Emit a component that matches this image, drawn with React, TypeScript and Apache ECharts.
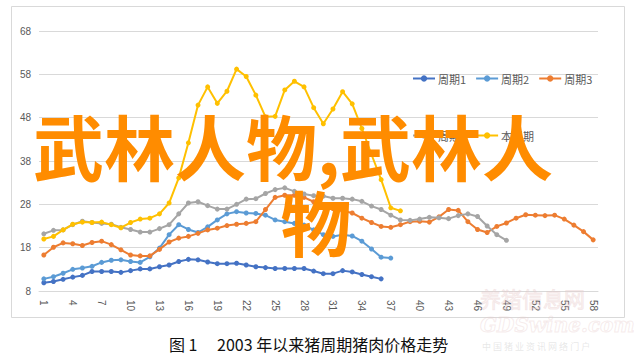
import React, { useEffect, useRef } from "react";
import * as echarts from "echarts";

const categories = [
  "1","2","3","4","5","6","7","8","9","10","11","12","13","14","15","16","17","18","19","20",
  "21","22","23","24","25","26","27","28","29","30","31","32","33","34","35","36","37","38","39","40",
  "41","42","43","44","45","46","47","48","49","50","51","52","53","54","55","56","57","58",
];

const seriesNames = ["周期1", "周期2", "周期3", "周期4", "本周期"];

const cycle1 = [
  9.9, 10.2, 10.7, 11.2, 11.6, 12.5, 12.5, 12.5, 12.3, 12.7, 13.1, 13.1, 13.6, 14.0, 14.8, 15.3, 15.2, 14.7, 14.3, 14.3,
  14.4, 14.0, 13.6, 13.4, 13.2, 13.2, 13.2, 13.2, 12.6, 12.0, 12.0, 12.7, 12.4, 11.8, 11.3, 10.8,
];

const cycle2 = [
  10.8, 11.3, 12.1, 13.0, 13.3, 13.7, 14.6, 15.1, 15.2, 14.8, 14.6, 15.9, 17.9, 21.0, 23.3, 22.2, 21.5, 22.8, 24.4, 25.8,
  26.3, 26.0, 25.9, 25.5, 24.4, 24.0, 23.6, 23.2, 22.1, 21.0, 20.6, 21.0, 20.7, 19.5, 17.7, 15.8, 15.6,
];

const cycle3 = [
  16.3, 18.1, 19.1, 18.9, 18.5, 19.2, 19.5, 18.7, 17.5, 16.3, 16.1, 16.1, 17.6, 19.3, 20.2, 20.6, 21.3, 22.1, 22.5, 23.1,
  23.4, 23.6, 24.0, 26.8, 29.6, 30.1, 30.1, 29.6, 28.6, 27.6, 27.0, 26.5, 26.0, 24.8, 23.8, 22.9, 22.7, 23.3, 24.0, 24.1,
  23.9, 25.1, 26.8, 26.6, 24.0, 22.2, 21.5, 22.9, 23.7, 24.8, 25.6, 25.5, 25.4, 25.5, 24.6, 23.2, 21.7, 19.8,
];

const cycle4 = [
  21.2, 22.0, 22.1, 23.3, 24.1, 23.8, 23.6, 23.4, 22.7, 22.2, 21.6, 21.6, 22.4, 23.3, 25.8, 28.3, 28.6, 27.7, 26.9, 26.9,
  28.0, 29.2, 29.3, 30.5, 31.4, 31.8, 31.0, 30.4, 30.0, 29.9, 29.4, 29.4, 29.2, 28.7, 27.6, 26.8, 25.5, 24.4, 24.3, 24.6,
  25.0, 24.9, 24.7, 25.4, 25.8, 25.2, 23.0, 21.0, 19.7,
];

const currentCycle = [
  20.0, 20.6, 22.1, 23.4, 23.9, 23.8, 23.9, 23.3, 22.6, 23.8, 24.6, 24.8, 25.8, 28.3, 34.1, 42.2, 50.9, 55.1, 51.3, 54.1,
  59.2, 57.5, 53.2, 48.2, 48.3, 54.4, 56.4, 55.1, 50.3, 46.6, 50.0, 54.0, 51.2, 45.5, 39.5, 33.7, 27.2, 26.5,
];

const colors = ["#4472C4", "#5B9BD5", "#ED7D31", "#A5A5A5", "#FFC000"];

const yMin = 8;
const yMax = 68;
const yInterval = 10;

const overlayLine1 = "武林人物,武林人";
const overlayLine2 = "物";
const caption = "图 1　 2003 年以来猪周期猪肉价格走势";
const watermark1 = "养猪信息网";
const watermark2 = "GDSwine.com";
const watermark3 = "中 国 猪 业 资 讯 网 络 门 户";

export default function App() {
  const ref = useRef<HTMLDivElement>(null);

  useEffect(() => {
    if (!ref.current) return;
    const chart = echarts.init(ref.current, null, { renderer: "svg" });
    const allData = [cycle1, cycle2, cycle3, cycle4, currentCycle];
    const font = '"Noto Sans CJK SC", "Liberation Sans", sans-serif';
    chart.setOption({
      animation: false,
      backgroundColor: "#ffffff",
      color: colors,
      textStyle: { fontFamily: font },
      grid: { left: 39, right: 36, top: 31, bottom: 67, containLabel: false },
      legend: [
        {
          data: seriesNames.slice(0, 3),
          left: 407,
          top: 68,
          itemWidth: 22,
          itemHeight: 8,
          itemGap: 9,
          textStyle: { color: "#595959", fontSize: 11, fontFamily: font, padding: [0, 0, 0, -2] },
        },
        {
          data: seriesNames.slice(3),
          left: 407,
          top: 125,
          itemWidth: 22,
          itemHeight: 8,
          itemGap: 9,
          textStyle: { color: "#595959", fontSize: 11, fontFamily: font, padding: [0, 0, 0, -2] },
        },
      ],
      xAxis: {
        type: "category",
        data: categories,
        boundaryGap: true,
        axisLine: { show: true, lineStyle: { color: "#d9d9d9", width: 1 } },
        axisTick: { show: false },
        axisLabel: {
          interval: 2,
          rotate: -90,
          margin: 9,
          color: "#595959",
          fontSize: 10,
          fontFamily: '"Liberation Sans", Arial, sans-serif',
        },
        splitLine: { show: false },
      },
      yAxis: {
        type: "value",
        min: yMin,
        max: yMax,
        interval: yInterval,
        axisLine: { show: false },
        axisTick: { show: false },
        axisLabel: {
          margin: 8,
          color: "#595959",
          fontSize: 10,
          fontFamily: '"Liberation Sans", Arial, sans-serif',
        },
        splitLine: { show: true, lineStyle: { color: "#d9d9d9", width: 1 } },
      },
      series: seriesNames.map((name, i) => ({
        name,
        type: "line",
        data: allData[i],
        symbol: "circle",
        symbolSize: 5,
        showSymbol: true,
        lineStyle: { width: 2, color: colors[i] },
        itemStyle: { color: colors[i] },
        z: 2 + i,
      })),
      graphic: [
        {
          type: "rect",
          z: -10,
          silent: true,
          shape: { x: 11.5, y: 6.5, width: 613, height: 311 },
          style: { fill: "none", stroke: "#d9d9d9", lineWidth: 1 },
        },
        {
          type: "text",
          z: 100,
          silent: true,
          x: 480,
          y: 287,
          style: {
            text: watermark1,
            font: '21px "Noto Sans CJK SC", sans-serif',
            fill: "rgba(240, 215, 215, 0.2)",
            stroke: "rgba(228, 195, 195, 0.35)",
            lineWidth: 1,
          },
        },
        {
          type: "text",
          z: 100,
          silent: true,
          x: 480,
          y: 315,
          style: {
            text: watermark2,
            font: 'italic bold 20px "DejaVu Serif", serif',
            fill: "rgba(255,255,255,0)",
            stroke: "rgba(230, 200, 200, 0.35)",
            lineWidth: 1,
          },
        },
        {
          type: "text",
          z: 100,
          silent: true,
          x: 482,
          y: 342,
          style: {
            text: watermark3,
            font: '9px "Noto Sans CJK SC", sans-serif',
            fill: "rgba(195, 195, 195, 0.4)",
          },
        },
        {
          type: "text",
          z: 50,
          silent: true,
          x: 169,
          y: 336,
          style: {
            text: caption,
            font: '16px "Noto Sans CJK SC", sans-serif',
            fill: "#111111",
          },
        },
        {
          type: "text",
          z: 200,
          silent: true,
          x: 33,
          y: 108,
          style: {
            text: overlayLine1,
            font: 'bold 71px "Noto Sans CJK SC", sans-serif',
            fill: "#FF8C00",
          },
        },
        {
          type: "text",
          z: 200,
          silent: true,
          x: 316,
          y: 184,
          style: {
            text: overlayLine2,
            font: 'bold 71px "Noto Sans CJK SC", sans-serif',
            fill: "#FF8C00",
            align: "center",
          },
        },
      ],
    });
    return () => chart.dispose();
  }, []);

  return (
    <div
      ref={ref}
      style={{ position: "fixed", left: 0, top: 0, width: 634, height: 358, background: "#fff" }}
    />
  );
}
